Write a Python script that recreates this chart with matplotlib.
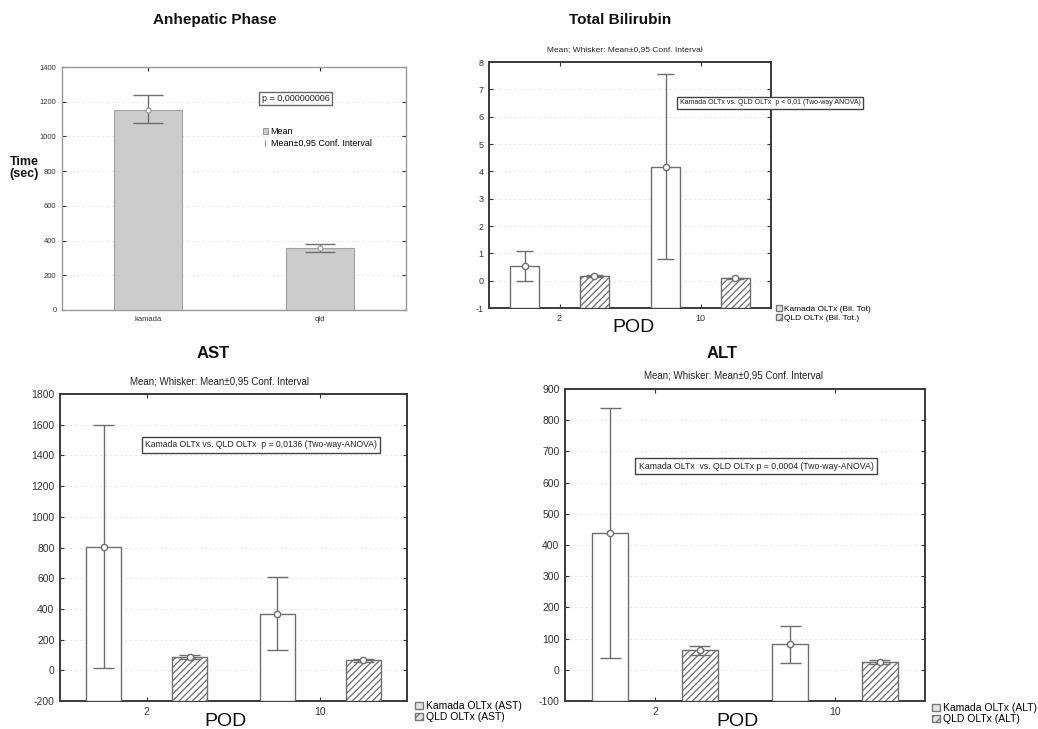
import matplotlib
matplotlib.use("Agg")
import matplotlib.pyplot as plt
from matplotlib.patches import Patch
from matplotlib.lines import Line2D
import numpy as np

plt.rcParams['font.family'] = ['Liberation Sans', 'DejaVu Sans']
plt.rcParams['hatch.color'] = '#777777'
plt.rcParams['hatch.linewidth'] = 0.9
plt.rcParams['axes.unicode_minus'] = False

W, H = 1038, 729

# ---- data ----
anhep_groups = ["kamada", "qld"]
anhep_mean = [1150, 355]
anhep_lo = [1080, 335]
anhep_hi = [1240, 378]

pod_labels = ["2", "10"]

bil_kamada_mean = [0.55, 4.15]
bil_kamada_lo = [0.0, 0.8]
bil_kamada_hi = [1.1, 7.55]
bil_qld_mean = [0.17, 0.08]
bil_qld_lo = [0.14, 0.05]
bil_qld_hi = [0.20, 0.11]

ast_kamada_mean = [805, 370]
ast_kamada_lo = [15, 130]
ast_kamada_hi = [1595, 610]
ast_qld_mean = [88, 65]
ast_qld_lo = [75, 55]
ast_qld_hi = [100, 75]

alt_kamada_mean = [440, 82]
alt_kamada_lo = [38, 22]
alt_kamada_hi = [840, 140]
alt_qld_mean = [62, 26]
alt_qld_lo = [48, 20]
alt_qld_hi = [75, 32]

EDGE = '#6e6e6e'
TXT = '#222222'


def add_axes_px(x0, y0, x1, y1):
    return fig.add_axes([x0 / W, 1 - y1 / H, (x1 - x0) / W, (y1 - y0) / H])


def style_axes(ax, tick_fs):
    for s in ax.spines.values():
        s.set_color('#3a3a3a')
        s.set_linewidth(1.4)
    ax.tick_params(axis='both', labelsize=tick_fs, colors='#333333', length=3,
                   width=0.8, direction='in', right=True, top=True, pad=4)
    ax.grid(True, axis='y', color='#dddddd', linestyle=(0, (2, 4)), linewidth=0.6)
    ax.set_axisbelow(True)


def whisker(ax, x, lo, hi, cap):
    ax.vlines(x, lo, hi, color=EDGE, linewidth=1.0, zorder=4)
    ax.hlines([lo, hi], x - cap, x + cap, color=EDGE, linewidth=1.0, zorder=4)


def pod_panel(ax, kam_m, kam_lo, kam_hi, qld_m, qld_lo, qld_hi, ylim, tick_fs):
    # bars rise from the bottom of the value axis, as in Statistica plots
    base = ylim[0]
    pos = np.arange(len(pod_labels))
    off, bw = 0.248, 0.2
    ax.bar(pos - off, np.array(kam_m) - base, width=bw, bottom=base,
           color='white', edgecolor=EDGE, linewidth=1.0, zorder=3)
    ax.bar(pos + off, np.array(qld_m) - base, width=bw, bottom=base,
           color='white', edgecolor=EDGE, linewidth=1.0, hatch='/////', zorder=3)
    for i in range(len(pos)):
        whisker(ax, pos[i] - off, kam_lo[i], kam_hi[i], 0.06)
        whisker(ax, pos[i] + off, qld_lo[i], qld_hi[i], 0.06)
    ax.plot(pos - off, kam_m, 'o', ms=4.5, mfc='white', mec=EDGE, mew=1.0, zorder=5)
    ax.plot(pos + off, qld_m, 'o', ms=4.5, mfc='white', mec=EDGE, mew=1.0, zorder=5)
    ax.set_xlim(-0.5, 1.5)
    ax.set_ylim(*ylim)
    ax.set_xticks(pos)
    ax.set_xticklabels(pod_labels)
    style_axes(ax, tick_fs)


def group_legend(labels, anchor, fs):
    fig.legend(handles=[Patch(fc='#e4e4e4', ec='#777777'),
                        Patch(fc='#e4e4e4', ec='#777777', hatch='////')],
               labels=labels, loc='upper left',
               bbox_to_anchor=(anchor[0] / W, 1 - anchor[1] / H), frameon=False,
               fontsize=fs, handlelength=0.7, handleheight=0.7,
               handletextpad=0.3, labelspacing=0.12, borderpad=0)


fig = plt.figure(figsize=(W / 100, H / 100), dpi=100)
fig.patch.set_facecolor('white')

# ---- Anhepatic phase ----
ax1 = add_axes_px(62, 67, 406, 310)
p1 = np.arange(len(anhep_groups))
ax1.bar(p1, anhep_mean, width=0.4, color='#cccccc', edgecolor='#a0a0a0',
        linewidth=0.8, zorder=3)
for i in range(len(p1)):
    whisker(ax1, p1[i], anhep_lo[i], anhep_hi[i], 0.085)
ax1.plot(p1, anhep_mean, 'o', ms=3.5, mfc='white', mec='#999999', mew=0.8, zorder=5)
ax1.set_xlim(-0.5, 1.5)
ax1.set_ylim(0, 1400)
ax1.set_yticks(np.arange(0, 1401, 200))
ax1.set_xticks(p1)
ax1.set_xticklabels(anhep_groups)
style_axes(ax1, 5.5)
for s in ax1.spines.values():
    s.set_color('#999999')
    s.set_linewidth(1.0)
ax1.text(0.58, 0.87, "p = 0,000000006", transform=ax1.transAxes, fontsize=6.5,
         color=TXT, va='center', ha='left',
         bbox=dict(boxstyle='square,pad=0.25', fc='white', ec='#666666', lw=1.0))
ax1.legend(handles=[Patch(fc='#cccccc', ec='#888888', lw=0.6),
                    Line2D([], [], color='#999999', marker='$\\mathrm{I}$',
                           linestyle='none', ms=5)],
           labels=["Mean", "Mean\u00b10,95 Conf. Interval"],
           loc='upper left', bbox_to_anchor=(0.57, 0.77), frameon=False,
           fontsize=6.5, handlelength=0.6, handleheight=0.6,
           handletextpad=0.3, labelspacing=0.25, borderpad=0)
fig.text(215 / W, 1 - 20 / H, "Anhepatic Phase", fontsize=11, fontweight='bold',
         ha='center', va='center', color='#111111')
fig.text(24 / W, 1 - 168 / H, "Time\n(sec)", fontsize=9, fontweight='bold',
         ha='center', va='center', color='#111111', linespacing=1.1)

# ---- Total bilirubin ----
ax2 = add_axes_px(489, 62, 771, 308)
pod_panel(ax2, bil_kamada_mean, bil_kamada_lo, bil_kamada_hi,
          bil_qld_mean, bil_qld_lo, bil_qld_hi, (-1, 8), 6.5)
ax2.set_yticks(np.arange(-1, 9, 1))
fig.text(620 / W, 1 - 20 / H, "Total Bilirubin", fontsize=11, fontweight='bold',
         ha='center', va='center', color='#111111')
fig.text(625 / W, 1 - 50 / H, "Mean; Whisker: Mean\u00b10,95 Conf. Interval",
         fontsize=6, ha='center', va='center', color=TXT)
fig.text(770 / W, 1 - 103 / H,
         "Kamada OLTx vs. QLD OLTx  p < 0,01 (Two-way ANOVA)", fontsize=5,
         ha='center', va='center', color=TXT,
         bbox=dict(boxstyle='square,pad=0.35', fc='white', ec='#444444', lw=1.0))
fig.text(633 / W, 1 - 328 / H, "POD", fontsize=14, ha='center', va='center',
         color='#111111')
group_legend(["Kamada OLTx (Bil. Tot)", "QLD OLTx (Bil. Tot.)"], (772, 301), 6)

# ---- AST ----
ax3 = add_axes_px(60, 394, 407, 701)
pod_panel(ax3, ast_kamada_mean, ast_kamada_lo, ast_kamada_hi,
          ast_qld_mean, ast_qld_lo, ast_qld_hi, (-200, 1800), 7.5)
ax3.set_yticks(np.arange(-200, 1801, 200))
fig.text(213 / W, 1 - 353 / H, "AST", fontsize=12, fontweight='bold',
         ha='center', va='center', color='#111111')
fig.text(220 / W, 1 - 382 / H, "Mean; Whisker: Mean\u00b10,95 Conf. Interval",
         fontsize=7, ha='center', va='center', color=TXT)
fig.text(261 / W, 1 - 445 / H,
         "Kamada OLTx vs. QLD OLTx  p = 0,0136 (Two-way-ANOVA)", fontsize=6.2,
         ha='center', va='center', color=TXT,
         bbox=dict(boxstyle='square,pad=0.4', fc='white', ec='#444444', lw=1.0))
fig.text(225 / W, 1 - 721 / H, "POD", fontsize=14, ha='center', va='center',
         color='#111111')
group_legend(["Kamada OLTx (AST)", "QLD OLTx (AST)"], (410, 696), 7.5)

# ---- ALT ----
ax4 = add_axes_px(565, 389, 925, 701)
pod_panel(ax4, alt_kamada_mean, alt_kamada_lo, alt_kamada_hi,
          alt_qld_mean, alt_qld_lo, alt_qld_hi, (-100, 900), 7.5)
ax4.set_yticks(np.arange(-100, 901, 100))
fig.text(722 / W, 1 - 353 / H, "ALT", fontsize=12, fontweight='bold',
         ha='center', va='center', color='#111111')
fig.text(733 / W, 1 - 375 / H, "Mean; Whisker: Mean\u00b10,95 Conf. Interval",
         fontsize=7, ha='center', va='center', color=TXT)
fig.text(756 / W, 1 - 466 / H,
         "Kamada OLTx  vs. QLD OLTx p = 0,0004 (Two-way-ANOVA)", fontsize=6.3,
         ha='center', va='center', color=TXT,
         bbox=dict(boxstyle='square,pad=0.4', fc='white', ec='#444444', lw=1.0))
fig.text(738 / W, 1 - 721 / H, "POD", fontsize=14, ha='center', va='center',
         color='#111111')
group_legend(["Kamada OLTx (ALT)", "QLD OLTx (ALT)"], (927, 698), 7.5)

fig.savefig("out.png", dpi=100, facecolor='white')
